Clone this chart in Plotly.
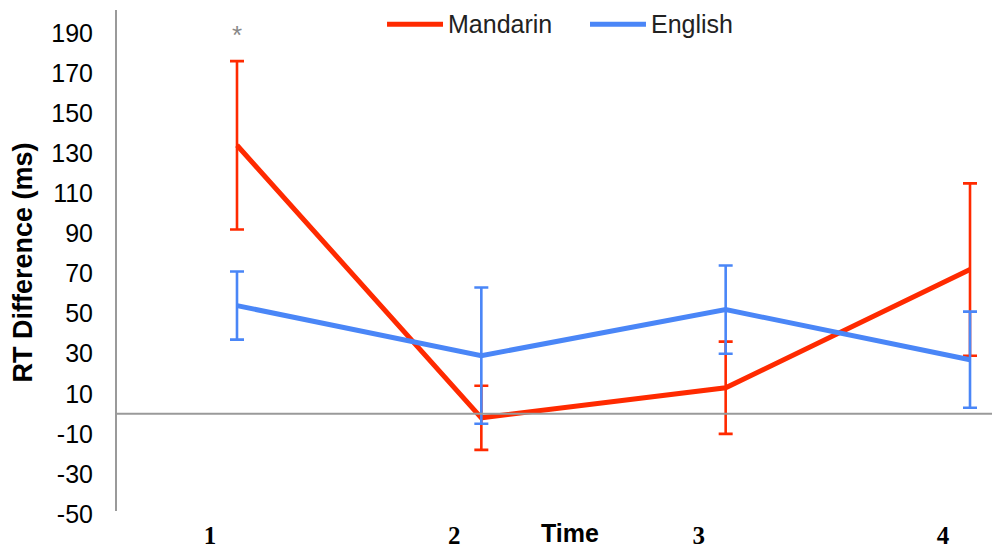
import plotly.graph_objects as go

# Reaction-time difference by session, two language groups
times = [1, 2, 3, 4]
time_labels = ["1", "2", "3", "4"]

mandarin_mean = [134, -2, 13, 72]
mandarin_err = [42, 16, 23, 43]

english_mean = [54, 29, 52, 27]
english_err = [17, 34, 22, 24]

y_ticks = [-50, -30, -10, 10, 30, 50, 70, 90, 110, 130, 150, 170, 190]
y_tick_text = [str(v) for v in y_ticks]  # plain hyphen for negatives

series = [
    ("Mandarin", mandarin_mean, mandarin_err, "#ff2a00"),
    ("English", english_mean, english_err, "#4a86f7"),
]

X_RANGE = [0.5048, 4.09]
Y_RANGE = [-50.5, 201.5]

fig = go.Figure()
for name, mean, err, color in series:
    fig.add_trace(go.Scatter(
        x=times, y=mean, name=name, mode="lines",
        line=dict(color=color, width=5),
        error_y=dict(type="data", array=err, visible=True,
                     color=color, thickness=2.6, width=7),
        showlegend=False,
    ))

shapes = [
    # baseline at zero
    dict(type="line", xref="paper", yref="y", x0=0, x1=1, y0=0, y1=0,
         line=dict(color="#9a9a9a", width=2)),
    # vertical axis line
    dict(type="line", xref="paper", yref="y", x0=0, x1=0, y0=-48.5, y1=Y_RANGE[1],
         line=dict(color="#9a9a9a", width=2)),
]

annotations = [
    dict(x=times[0], y=189, xref="x", yref="y", text="*", showarrow=False,
         font=dict(family="Liberation Sans", size=26, color="#888888")),
    dict(x=2.363, y=0, xref="x", yref="paper", yanchor="top", yshift=-2,
         text="Time", showarrow=False,
         font=dict(family="Liberation Sans", size=25, color="#000000", weight="bold")),
]

# legend drawn along the top
legend_pos = [(0.3094, 0.3733), (0.5411, 0.6050)]
for (name, _, _, color), (lx0, lx1) in zip(series, legend_pos):
    shapes.append(dict(type="line", xref="paper", yref="paper",
                       x0=lx0, x1=lx1, y0=0.972, y1=0.972,
                       line=dict(color=color, width=5)))
    annotations.append(dict(x=lx1 + 0.003, y=0.972, xref="paper", yref="paper",
                            xanchor="left", yanchor="middle", text=name,
                            showarrow=False,
                            font=dict(family="Liberation Sans", size=25, color="#222222")))

fig.update_layout(
    width=992, height=548,
    margin=dict(l=116, r=0, t=10, b=33),
    paper_bgcolor="white", plot_bgcolor="white",
    shapes=shapes, annotations=annotations,
    xaxis=dict(range=X_RANGE, showgrid=False, zeroline=False, showline=False,
               automargin=False,
               tickvals=times, ticktext=time_labels, ticks="",
               ticklabelshift=-27, ticklabelstandoff=3,
               tickfont=dict(family="Liberation Serif", size=25, color="#000000",
                             weight="bold")),
    yaxis=dict(range=Y_RANGE, showgrid=False, zeroline=False, showline=False,
               automargin=False,
               tickvals=y_ticks, ticktext=y_tick_text, ticks="", ticklabelstandoff=22,
               tickfont=dict(family="Liberation Sans", size=25, color="#000000"),
               title=dict(text="RT Difference (ms)", standoff=10,
                          font=dict(family="Liberation Sans", size=27,
                                    color="#000000", weight="bold"))),
)

fig.write_html("out.html")
